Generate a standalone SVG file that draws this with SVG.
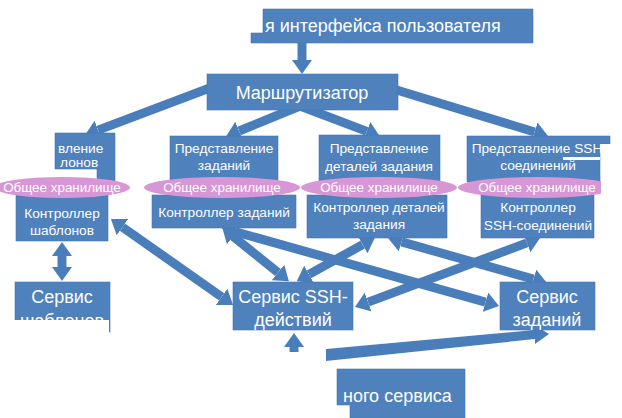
<svg xmlns="http://www.w3.org/2000/svg" width="622" height="418" viewBox="0 0 622 418">
<style>
.box{fill:#4f81bd;stroke:#4677b3;stroke-width:0.6}
.ell{fill:#d796d6}
.t{font-family:"Liberation Sans",Arial,sans-serif;fill:#ffffff;text-anchor:middle}
.s{font-size:13.7px}
.e{font-size:13.4px}
.l{font-size:18px}
.st{text-anchor:start}
.c{stroke:#4a7ebb;stroke-width:9;fill:none}
.wh{fill:#ffffff}
</style>
<defs>
<marker id="h" markerUnits="userSpaceOnUse" markerWidth="14" markerHeight="20" viewBox="0 0 14 20" refX="0" refY="10" orient="auto-start-reverse">
<path d="M0,0 L14,10 L0,20 Z" fill="#4a7ebb"/>
</marker>
</defs>
<rect width="622" height="418" fill="#ffffff"/>
<g id="connectors">
<line class="c" x1="302" y1="40" x2="302" y2="60" marker-end="url(#h)"/>
<line class="c" x1="215" y1="86" x2="98.1" y2="130.1" marker-end="url(#h)"/>
<line class="c" x1="300" y1="106" x2="239.1" y2="131" marker-end="url(#h)"/>
<line class="c" x1="300" y1="106" x2="366.8" y2="131.4" marker-end="url(#h)"/>
<line class="c" x1="390" y1="88" x2="534.6" y2="132" marker-end="url(#h)"/>
<line class="c" x1="62" y1="256" x2="62" y2="267" marker-start="url(#h)" marker-end="url(#h)"/>
<line class="c" x1="122.4" y1="227.1" x2="221.6" y2="296.9" marker-start="url(#h)" marker-end="url(#h)"/>
<line class="c" x1="233.2" y1="236.5" x2="278" y2="272.5" marker-start="url(#h)" marker-end="url(#h)"/>
<line class="c" x1="235.5" y1="231.8" x2="485.5" y2="302.2" marker-start="url(#h)" marker-end="url(#h)"/>
<line class="c" x1="362.6" y1="244.6" x2="309" y2="274.4" marker-start="url(#h)" marker-end="url(#h)"/>
<line class="c" x1="401.5" y1="241.8" x2="533.5" y2="279.2" marker-start="url(#h)" marker-end="url(#h)"/>
<line class="c" x1="526.9" y1="242.9" x2="368.1" y2="302.1" marker-start="url(#h)" marker-end="url(#h)"/>
<line class="c" x1="294" y1="352" x2="294" y2="347" marker-end="url(#h)"/>
<polygon points="326,349 534,330 533,324 549,334 535,344 535,339 326,361" fill="#4a7ebb"/>
</g>
<g id="ui">
<polygon class="box" points="263,9 533,9 533,43 251,43 251,33 263,33"/>
<text class="t l st" x="265" y="32">я интерфейса пользователя</text>
</g>
<g id="router">
<rect class="box" x="207" y="74" width="191" height="36"/>
<text class="t l" x="302" y="99">Маршрутизатор</text>
</g>
<g id="view-templates">
<polygon class="box" points="55,133 115,133 115,182 97,182 97,169 55,169"/>
<text class="t s st" x="58" y="153">вление</text>
<text class="t s st" x="60" y="167">лонов</text>
</g>
<g id="view-tasks">
<rect class="box" x="170" y="136" width="108" height="46"/>
<text class="t s" x="224" y="153">Представление</text>
<text class="t s" x="224" y="170">заданий</text>
</g>
<g id="view-task-details">
<rect class="box" x="319" y="135" width="121" height="47"/>
<text class="t s" x="379" y="153">Представление</text>
<text class="t s" x="379" y="171">деталей задания</text>
</g>
<g id="view-ssh">
<polygon class="box" points="467,136 610,136 610,144 600,144 600,182 467,182"/>
<rect class="wh" x="563" y="157" width="37" height="3"/>
<text class="t s" x="537" y="153">Представление SSH</text>
<text class="t s" x="538" y="170">соединений</text>
</g>
<g id="ctrl-templates">
<rect class="box" x="16" y="195" width="92" height="46"/>
<text class="t s" x="62" y="218">Контроллер</text>
<text class="t s" x="62" y="235">шаблонов</text>
</g>
<g id="ctrl-tasks">
<rect class="box" x="152" y="195" width="144" height="33"/>
<text class="t s" x="224" y="217">Контроллер заданий</text>
</g>
<g id="ctrl-task-details">
<rect class="box" x="307" y="195" width="140" height="43"/>
<text class="t s" x="379" y="212">Контроллер деталей</text>
<text class="t s" x="379" y="229">задания</text>
</g>
<g id="ctrl-ssh">
<rect class="box" x="481" y="195" width="113" height="43"/>
<text class="t s" x="538" y="212">Контроллер</text>
<text class="t s" x="538" y="230">SSH-соединений</text>
</g>
<g id="store-1">
<ellipse class="ell" cx="62" cy="187.5" rx="68" ry="10.5"/>
<text class="t e" x="62" y="192">Общее хранилище</text>
</g>
<g id="store-2">
<ellipse class="ell" cx="222" cy="187.5" rx="78" ry="10.5"/>
<text class="t e" x="222" y="192">Общее хранилище</text>
</g>
<g id="store-3">
<ellipse class="ell" cx="379" cy="187.5" rx="78" ry="10.5"/>
<text class="t e" x="379" y="192">Общее хранилище</text>
</g>
<g id="store-4">
<ellipse class="ell" cx="537" cy="187.5" rx="79" ry="10.5"/>
<rect class="wh" x="601" y="144" width="21" height="60"/>
<text class="t e" x="537" y="192">Общее хранилище</text>
</g>
<g id="svc-templates">
<rect class="box" x="15" y="282" width="95" height="50"/>
<text class="t l" x="62" y="303">Сервис</text>
<text class="t l" x="62" y="327">шаблонов</text>
<rect class="wh" x="0" y="320" width="109" height="20"/>
</g>
<g id="svc-ssh-actions">
<rect class="box" x="233" y="282" width="120" height="48"/>
<text class="t l" x="293" y="303">Сервис SSH-</text>
<text class="t l" x="293" y="326">действий</text>
</g>
<g id="svc-tasks">
<rect class="box" x="500" y="282" width="95" height="48"/>
<text class="t l" x="547" y="303">Сервис</text>
<text class="t l" x="547" y="326">заданий</text>
</g>
<g id="bottom-service">
<polygon class="box" points="337,369 465,369 465,418 350,418 350,405 337,405"/>
<text class="t l st" x="343" y="402">ного сервиса</text>
</g>
</svg>
